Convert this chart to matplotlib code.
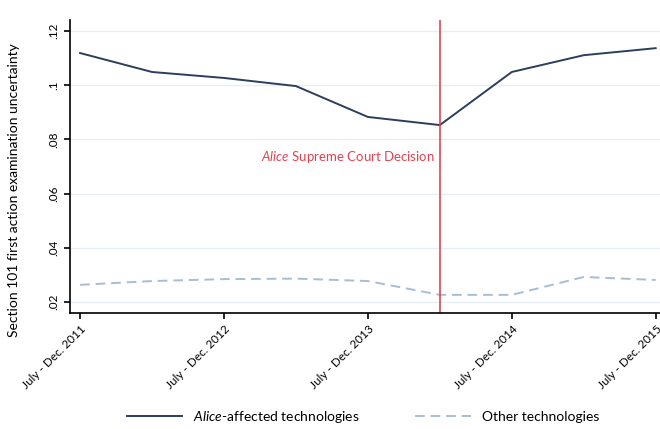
import matplotlib
matplotlib.use("Agg")
import matplotlib.pyplot as plt

plt.rcParams['font.family'] = ['Lato', 'DejaVu Sans']
plt.rcParams['mathtext.fontset'] = 'custom'
plt.rcParams['mathtext.rm'] = 'Lato'
plt.rcParams['mathtext.it'] = 'Lato:italic'

# half-year periods, July-Dec 2011 .. July-Dec 2015
periods = [0, 1, 2, 3, 4, 5, 6, 7, 8]
alice = [0.1119, 0.1049, 0.1027, 0.0997, 0.0883, 0.0853, 0.1049, 0.1111, 0.1137]
other = [0.0263, 0.0277, 0.0284, 0.0286, 0.0277, 0.0226, 0.0226, 0.0292, 0.0281]
tick_pos = [0, 2, 4, 6, 8]
tick_labels = ["July - Dec. 2011", "July - Dec. 2012", "July - Dec. 2013",
               "July - Dec. 2014", "July - Dec. 2015"]
y_ticks = [0.02, 0.04, 0.06, 0.08, 0.10, 0.12]
y_labels = [".02", ".04", ".06", ".08", ".1", ".12"]
decision = 5

fig = plt.figure(figsize=(6.6, 4.29), dpi=100)
ax = fig.add_axes([70/660, 1-313/429, 590/660, 293/429])

for y in y_ticks:
    ax.axhline(y, color='#e6eef4', lw=1, zorder=0)

ax.plot(periods, alice, color='#2b3e5c', lw=1.4, label=r'$\it{Alice}$-affected technologies')
ax.plot(periods, other, color='#a9bcd6', lw=1.4, ls=(0, (5, 3)), label='Other technologies')
ax.axvline(decision, color='#e8414e', lw=1.2)
ax.text(decision - 0.07, 0.0735, r'$\it{Alice}$ Supreme Court Decision', color='#e8414e',
        ha='right', va='center', fontsize=9.5)

ax.set_xlim(-0.14, 8.06)
ax.set_ylim(0.0159, 0.1241)
ax.set_yticks(y_ticks)
ax.set_yticklabels(y_labels, rotation=90, va='center', fontsize=8.5)
ax.set_xticks(tick_pos)
ax.set_xticklabels(tick_labels, rotation=45, ha='right', rotation_mode='anchor', fontsize=8.5)
ax.spines['top'].set_visible(False)
ax.spines['right'].set_visible(False)
ax.tick_params(length=4, width=1.2)
ax.spines['left'].set_linewidth(1.2)
ax.spines['bottom'].set_linewidth(1.2)
ax.set_ylabel('Section 101 first action examination uncertainty', fontsize=10)
ax.yaxis.set_label_coords(-0.085, 0.42)

fig.legend(loc='center', bbox_to_anchor=(0.55, 1-417/429), ncol=2, frameon=False,
           fontsize=10, handlelength=4, columnspacing=4)

fig.savefig('out.png', dpi=100)
